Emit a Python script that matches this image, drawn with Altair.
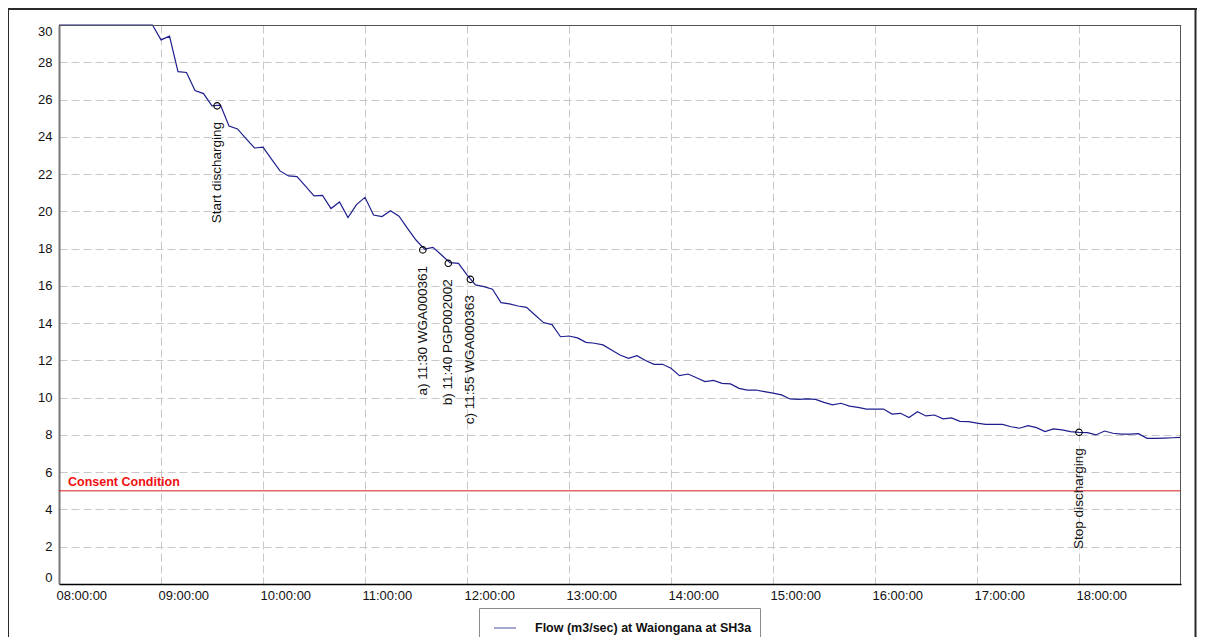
import altair as alt
import pandas as pd

# ---- data ----
start_time = "2012-01-01 08:00"
step = "5min"
flow = [30.0, 30.0, 30.0, 30.0, 30.0, 30.0, 30.0, 30.0, 30.0, 30.0, 30.0, 30.0,
        29.2, 29.4, 27.5, 27.45, 26.48, 26.32, 25.66, 25.7, 24.58, 24.42, 23.9, 23.4,
        23.44, 22.8, 22.17, 21.9, 21.86, 21.35, 20.83, 20.86, 20.15, 20.5, 19.67, 20.36,
        20.75, 19.8, 19.72, 20.03, 19.74, 19.09, 18.46, 17.97, 18.07, 17.66, 17.25, 17.21,
        16.59, 16.05, 15.96, 15.82, 15.1, 15.03, 14.92, 14.85, 14.44, 14.03, 13.92, 13.27,
        13.31, 13.21, 12.97, 12.92, 12.83, 12.56, 12.29, 12.11, 12.25, 11.99, 11.79, 11.79,
        11.58, 11.18, 11.27, 11.07, 10.86, 10.93, 10.77, 10.74, 10.5, 10.41, 10.41, 10.32,
        10.24, 10.15, 9.93, 9.91, 9.93, 9.91, 9.75, 9.61, 9.7, 9.55, 9.48, 9.39,
        9.39, 9.39, 9.12, 9.16, 8.93, 9.25, 9.02, 9.07, 8.86, 8.91, 8.73, 8.71,
        8.63, 8.57, 8.57, 8.57, 8.44, 8.36, 8.5, 8.39, 8.18, 8.32, 8.27, 8.18,
        8.14, 8.12, 8.0, 8.21, 8.09, 8.04, 8.04, 8.07, 7.82, 7.82, 7.83, 7.85,
        7.87]
series_name = "Flow (m3/sec) at Waiongana at SH3a"

ann_times = ["2012-01-01T09:33:00", "2012-01-01T11:34:00", "2012-01-01T11:49:00",
             "2012-01-01T12:02:00", "2012-01-01T18:00:00"]
ann_values = [25.66, 17.93, 17.21, 16.35, 8.14]
ann_labels = ["Start discharging", "a) 11:30 WGA000361", "b) 11:40 PGP002002",
              "c) 11:55 WGA000363", "Stop discharging"]

consent_level = 5
consent_label = "Consent Condition"

y_ticks = [0, 2, 4, 6, 8, 10, 12, 14, 16, 18, 20, 22, 24, 26, 28, 30]
x_tick_hours = [8, 9, 10, 11, 12, 13, 14, 15, 16, 17, 18]
x_domain_hours = [8, 19]

# ---- tables ----
times = pd.date_range(start_time, periods=len(flow), freq=step).strftime("%Y-%m-%dT%H:%M:%S")
df = pd.DataFrame({"time": list(times), "value": flow, "series": series_name})
ann = pd.DataFrame({"time": ann_times, "value": ann_values, "label": ann_labels})
consent = pd.DataFrame({"time": [df["time"].iloc[0]], "value": [consent_level], "label": [consent_label]})
one = pd.DataFrame({"a": [0]})

FONT = "Arial, Liberation Sans, sans-serif"
NAVY = "#1e1e8e"
W, H = 1122, 559


def dt(h):
    return alt.DateTime(year=2012, month=1, date=1, hours=h)


x_enc = alt.X(
    "time:T",
    scale=alt.Scale(domain=[dt(x_domain_hours[0]), dt(x_domain_hours[1])]),
    axis=alt.Axis(values=[dt(h) for h in x_tick_hours], format="%H:%M:%S", title=None,
                  ticks=False, labelAlign="left", labelOffset=-3, labelPadding=5,
                  labelFlush=False, labelOverlap=False, domainColor="#000000", domainWidth=1.5,
                  grid=True),
)
y_enc = alt.Y(
    "value:Q",
    scale=alt.Scale(domain=[0, 30], nice=False, zero=True),
    axis=alt.Axis(values=y_ticks, title=None, ticks=False, labelPadding=7, labelFlush=True,
                  labelOverlap=False, domainColor="#777777", domainWidth=2, grid=True),
)

line = alt.Chart(df).mark_line(strokeWidth=1.2).encode(
    x=x_enc,
    y=y_enc,
    color=alt.Color("series:N", scale=alt.Scale(range=[NAVY]),
                    legend=alt.Legend(orient="none", legendX=420, legendY=583, title=None,
                                      strokeColor="#8c8c8c", fillColor="white", padding=8,
                                      symbolType="stroke", symbolSize=484, symbolStrokeWidth=1.2,
                                      symbolOpacity=0.65,
                                      symbolOffset=6, labelFont=FONT, labelFontWeight="bold",
                                      labelFontSize=12.5, labelColor="#111111", labelOffset=18,
                                      labelLimit=500, cornerRadius=0)),
)

consent_rule = alt.Chart(consent).mark_rule(color="#d41a1a", strokeWidth=1).encode(y=y_enc)
consent_text = alt.Chart(consent).mark_text(
    align="left", baseline="alphabetic", dx=9, dy=-5, font=FONT, fontWeight="bold",
    fontSize=12.5, color="#f01010"
).encode(x=x_enc, y=y_enc, text="label:N")

ann_pts = alt.Chart(ann).mark_point(shape="circle", filled=False, color="#000000",
                                    size=42, strokeWidth=1.1, opacity=1).encode(x=x_enc, y=y_enc)
ann_text = alt.Chart(ann).mark_text(
    angle=270, align="right", baseline="middle", dx=-16, font=FONT, fontSize=13.5,
    color="#111111"
).encode(x=x_enc, y=y_enc, text="label:N")

# plot-area frame (top and right) drawn above the grid
plot_color = "#555555"
plot_top = alt.Chart(one).mark_rule(color=plot_color, strokeWidth=1).encode(
    x=alt.value(0), x2=alt.value(W), y=alt.value(0.5))
plot_right = alt.Chart(one).mark_rule(color=plot_color, strokeWidth=1).encode(
    x=alt.value(W - 0.5), y=alt.value(0), y2=alt.value(H))

# outer figure frame
frame_color = "#2a2a2a"
frame_left = alt.Chart(one).mark_rule(color=frame_color, strokeWidth=2).encode(
    x=alt.value(-51), y=alt.value(-16), y2=alt.value(700))
frame_top = alt.Chart(one).mark_rule(color=frame_color, strokeWidth=2).encode(
    x=alt.value(-52), x2=alt.value(1138), y=alt.value(-16))
frame_right = alt.Chart(one).mark_rule(color=frame_color, strokeWidth=2).encode(
    x=alt.value(1136.5), y=alt.value(-16), y2=alt.value(700))

chart = alt.layer(
    line, consent_rule, consent_text, plot_top, plot_right, ann_pts, ann_text,
    frame_left, frame_top, frame_right
).properties(
    width=W, height=H,
    background="white",
    autosize=alt.AutoSizeParams(type="none"),
    padding={"left": 51, "top": 17, "right": 16, "bottom": 60},
).configure_view(
    stroke=None
).configure_axis(
    labelFont=FONT, labelFontSize=13, labelColor="#111111",
    gridColor="#c8c8c8", gridDash=[8, 4], gridWidth=1
)

chart.save("out.html", embed_options={"renderer": "svg", "actions": False})
